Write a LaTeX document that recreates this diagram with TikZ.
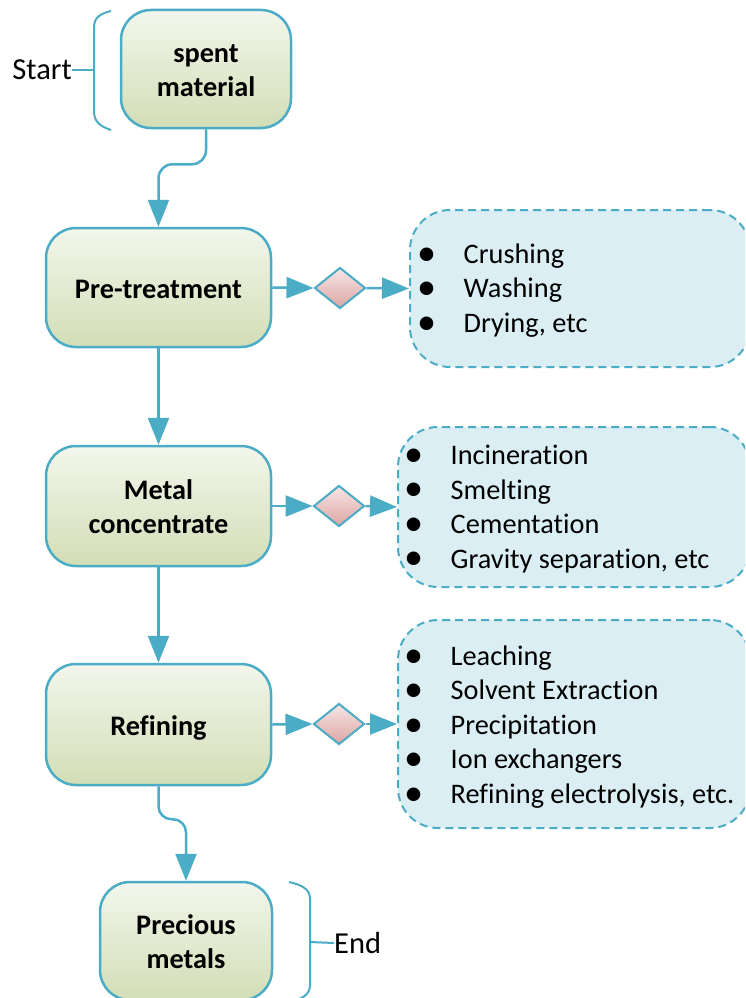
\documentclass[tikz,border=0pt]{standalone}
\usepackage{fontspec}
\setmainfont{Carlito}[Ligatures=NoCommon]
\usetikzlibrary{arrows.meta,shapes.geometric}

\definecolor{lineblue}{HTML}{4BACC6}
\definecolor{greentop}{HTML}{F3F6EC}
\definecolor{greenbot}{HTML}{D2DEB6}
\definecolor{pinktop}{HTML}{F7E6E6}
\definecolor{pinkbot}{HTML}{DCA5A3}
\definecolor{listfill}{HTML}{DAEEF3}

% centred multi-line label for the stage boxes, set slightly low
\newcommand\stagetext[1]{\raisebox{-4pt}[\height][\depth]{\begin{tabular}{@{}c@{}}#1\end{tabular}}}
% enlarged list bullet
\newcommand\listdot{\raisebox{-1.8pt}{\scalebox{1.35}{\textbullet}}}
% bulleted list with a fixed gap between bullet and text
\newenvironment{methodlist}{\begin{tabular}{@{}c@{\hspace{27.5pt}}l@{}}}{\end{tabular}}

\begin{document}
\begin{tikzpicture}[x=1pt,y=-1pt,
  stage/.style={draw=lineblue, line width=2.5pt, rounded corners=30pt,
    top color=greentop, bottom color=greenbot, align=center, inner sep=0pt,
    font=\fontsize{28.3}{34}\selectfont\bfseries},
  choice/.style={diamond, draw=lineblue, line width=2pt, top color=pinktop,
    bottom color=pinkbot, minimum width=51pt, minimum height=41pt, inner sep=0pt},
  methods/.style={draw=lineblue, line width=2pt, dash pattern=on 8pt off 5pt,
    fill=listfill, rounded corners=40pt, inner sep=0pt},
  listtext/.style={inner sep=0pt, anchor=west, font=\fontsize{28.3}{34.5}\selectfont},
  flow/.style={draw=lineblue, line width=2.5pt, -{Triangle[length=27pt,width=21pt]}},
  brace/.style={draw=lineblue, line width=2pt},
  plain/.style={inner sep=0pt, font=\fontsize{30.5}{34}\selectfont}
]
\useasboundingbox (0,0) rectangle (745,998);
\clip (0,0) rectangle (745,998);

% process stages
\node[stage, minimum width=170pt, minimum height=118pt] (spent) at (206,69) {\stagetext{spent\\material}};
\node[stage, minimum width=225pt, minimum height=119pt] (pre) at (158.5,287.5) {\stagetext{Pre-treatment}};
\node[stage, minimum width=225pt, minimum height=120pt] (metal) at (158.5,506) {\stagetext{Metal\\concentrate}};
\node[stage, minimum width=225pt, minimum height=121pt] (refine) at (158.5,724.5) {\stagetext{Refining}};
\node[stage, minimum width=172pt, minimum height=118pt] (precious) at (186,941) {\stagetext{Precious\\metals}};

% decision diamonds
\node[choice] (d1) at (340,288) {};
\node[choice] (d2) at (339,506) {};
\node[choice] (d3) at (339,724) {};

% method lists
\node[methods, minimum width=340pt, minimum height=157pt] (m1) at (580,288.5) {};
\node[methods, minimum width=352pt, minimum height=160pt] (m2) at (574,507) {};
\node[methods, minimum width=352pt, minimum height=208pt] (m3) at (574,724) {};

\node[listtext] (l1) at (417,291) {\begin{methodlist}
  \listdot & Crushing\\ \listdot & Washing\\ \listdot & Drying, etc\end{methodlist}};
\node[listtext] (l2) at (404,509.5) {\begin{methodlist}
  \listdot & Incineration\\ \listdot & Smelting\\ \listdot & Cementation\\
  \listdot & Gravity separation, etc\end{methodlist}};
\node[listtext] (l3) at (404,727.5) {\begin{methodlist}
  \listdot & Leaching\\ \listdot & Solvent Extraction\\ \listdot & Precipitation\\
  \listdot & Ion exchangers\\ \listdot & Refining electrolysis, etc.\end{methodlist}};

% main flow
\draw[flow, rounded corners=14pt] (spent.south) -- ++(0,35) -| (pre.north);
\draw[flow] (pre.south) -- (metal.north);
\draw[flow] (metal.south) -- (refine.north);
\draw[flow, rounded corners=13pt] (refine.south) -- ++(0,33) -| (precious.north);

% side branches
\draw[flow] (pre.east) -- (d1.west);
\draw[flow] (d1.east) -- (m1.west);
\draw[flow] (metal.east) -- (d2.west);
\draw[flow] (d2.east) -- (m2.west);
\draw[flow] (refine.east) -- (d3.west);
\draw[flow] (d3.east) -- (m3.west);

% start bracket
\node[plain, anchor=east] (start) at (72,70) {Start};
\coordinate (sb) at (94,70);
\draw[brace] (111,11) .. controls (99,14) and (94,18) .. (94,28) -- (94,111)
  .. controls (94,121) and (99,126) .. (111,130);
\draw[brace] (start.east) -- (sb);

% end bracket
\node[plain, anchor=west] (end) at (334,943) {End};
\coordinate (eb) at (310,942);
\draw[brace] (289,882) .. controls (302,885) and (310,889) .. (310,899) -- (310,985)
  .. controls (310,995) and (302,999) .. (289,1002);
\draw[brace] (eb) -- (end.west);
\end{tikzpicture}
\end{document}
